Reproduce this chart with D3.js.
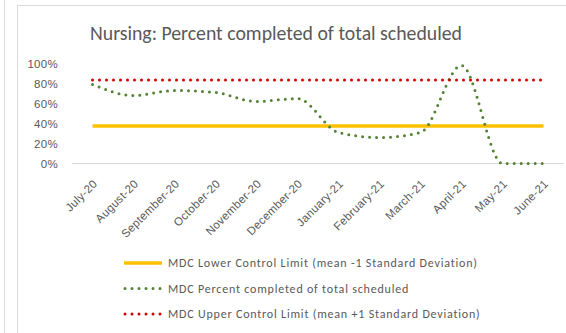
<!DOCTYPE html>
<html>
<head>
<meta charset="utf-8">
<script src="https://cdn.jsdelivr.net/npm/d3@7"></script>
<style>
  html, body { margin: 0; padding: 0; background: #fff; }
  svg { display: block; font-family: Carlito, Calibri, Lato, "Open Sans", sans-serif; }
</style>
</head>
<body>
<svg id="chart" width="566" height="333"></svg>
<script>
// Monthly categories
const months = ["July-20", "August-20", "September-20", "October-20", "November-20", "December-20",
                "January-21", "February-21", "March-21", "April-21", "May-21", "June-21"];
// Percent completed of total scheduled (fraction)
const completed = [0.79, 0.68, 0.73, 0.71, 0.62, 0.65, 0.31, 0.26, 0.31, 0.98, 0.00, 0.00];
// Control limits
const lowerLimit = months.map(() => 0.375);
const upperLimit = months.map(() => 0.835);
const yTicks = [0, 0.2, 0.4, 0.6, 0.8, 1.0];

const legendItems = [
  { label: "MDC Lower Control Limit (mean -1 Standard Deviation)", color: "#FFC000", type: "solid" },
  { label: "MDC Percent completed of total scheduled", color: "#548235", type: "dot" },
  { label: "MDC Upper Control Limit (mean +1 Standard Deviation)", color: "#D40000", type: "dot" }
];

const svg = d3.select("#chart");
const textColor = "#595959";

// Outer frames
svg.append("line").attr("x1", 4.5).attr("x2", 4.5).attr("y1", 0).attr("y2", 333)
  .attr("stroke", "#d9d9d9").attr("stroke-width", 1);
svg.append("path").attr("d", "M17.5,333 V5.5 H566")
  .attr("fill", "none").attr("stroke", "#d9d9d9").attr("stroke-width", 1);

// Title
svg.append("text").attr("x", 276).attr("y", 40).attr("text-anchor", "middle")
  .attr("font-size", 19.8).attr("fill", textColor)
  .text("Nursing: Percent completed of total scheduled");

const x = d3.scalePoint().domain(months).range([72, 564]).padding(0.5);
const y = d3.scaleLinear().domain([0, 1]).range([163.5, 63.5]);

// Y axis labels
const yAxis = svg.append("g").attr("transform", "translate(58,0)")
  .call(d3.axisLeft(y).tickValues(yTicks).tickFormat(d3.format(".0%")).tickSize(0).tickPadding(0));
yAxis.select(".domain").remove();
yAxis.selectAll("text").attr("font-size", 11.5).attr("letter-spacing", 0.3)
  .attr("fill", textColor).attr("font-family", null);

// Baseline
svg.append("line").attr("x1", 72).attr("x2", 564).attr("y1", y(0)).attr("y2", y(0))
  .attr("stroke", "#d9d9d9").attr("stroke-width", 1);

// X axis labels
const xAxis = svg.append("g").attr("transform", `translate(0,${y(0)})`)
  .call(d3.axisBottom(x).tickSize(0).tickPadding(0));
xAxis.select(".domain").remove();
xAxis.selectAll("text")
  .attr("font-size", 11.5).attr("letter-spacing", 0.3).attr("fill", textColor).attr("font-family", null)
  .attr("text-anchor", "end")
  .attr("dy", null).attr("y", null)
  .attr("transform", "translate(5,21) rotate(-45)");

// Lower control limit
const line = d3.line().x((d, i) => x(months[i])).y(d => y(d));
svg.append("path").datum(lowerLimit).attr("d", line)
  .attr("fill", "none").attr("stroke", "#FFC000").attr("stroke-width", 3.5);

// Percent completed (smoothed)
const smooth = d3.line().x((d, i) => x(months[i])).y(d => y(d)).curve(d3.curveMonotoneX);
svg.append("path").datum(completed).attr("d", smooth)
  .attr("fill", "none").attr("stroke", "#548235").attr("stroke-width", 3)
  .attr("stroke-linecap", "round").attr("stroke-dasharray", "0 7");

// Upper control limit
svg.append("path").datum(upperLimit).attr("d", line)
  .attr("fill", "none").attr("stroke", "#D40000").attr("stroke-width", 3)
  .attr("stroke-linecap", "round").attr("stroke-dasharray", "0 7");

// Legend
const legend = svg.append("g");
legendItems.forEach((item, i) => {
  const ly = 263 + i * 25.5;
  const g = legend.append("g").attr("transform", `translate(0,${ly})`);
  if (item.type === "solid") {
    g.append("line").attr("x1", 124).attr("x2", 162).attr("y1", 0).attr("y2", 0)
      .attr("stroke", item.color).attr("stroke-width", 3.5);
  } else {
    g.append("line").attr("x1", 125).attr("x2", 162).attr("y1", 0).attr("y2", 0)
      .attr("stroke", item.color).attr("stroke-width", 3)
      .attr("stroke-linecap", "round").attr("stroke-dasharray", "0 7");
  }
  g.append("text").attr("x", 168).attr("y", 0).attr("dy", "0.35em")
    .attr("font-size", 12).attr("letter-spacing", 0.8).attr("fill", textColor).text(item.label);
});
</script>
</body>
</html>
